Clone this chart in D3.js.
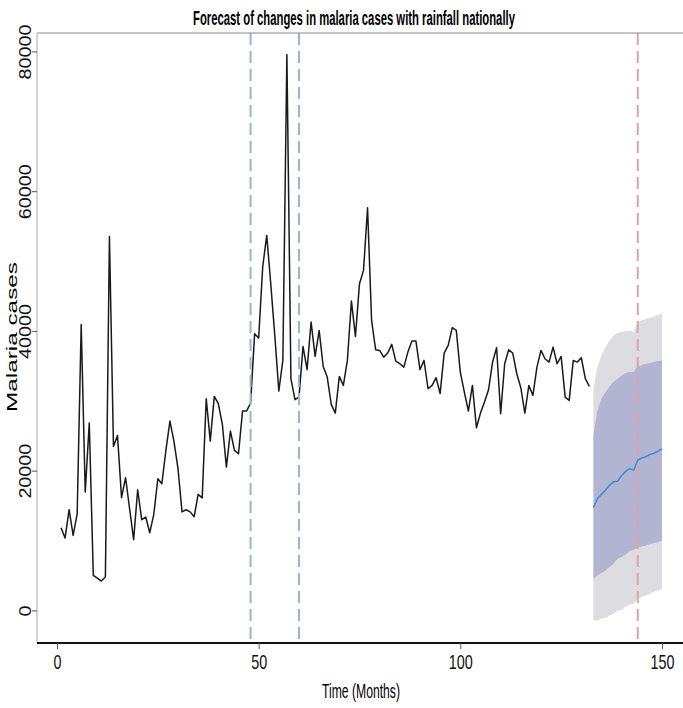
<!DOCTYPE html>
<html>
<head>
<meta charset="utf-8">
<script src="https://cdnjs.cloudflare.com/ajax/libs/d3/7.8.5/d3.min.js"></script>
<style>
  body { margin: 0; background: #fff; }
  svg { display: block; font-family: "Liberation Sans", Arial, sans-serif; }
</style>
</head>
<body>
<div class="svg"></div>
<script>
// observed monthly malaria cases, months 1..132
var cases = [
  11830, 10350, 14410, 10730, 13830, 40930, 16930, 26810, 5010, 4630,
  4200, 4770, 53520, 23470, 25040, 16130, 18990, 14550, 10120, 17270,
  12980, 13360, 11120, 13740, 18840, 18130, 22900, 27090, 24200, 20300,
  14100, 14400, 14100, 13400, 16600, 16100, 30300, 24230, 30630, 29580,
  26620, 20510, 25660, 22900, 22420, 28520, 28520, 29670, 39600, 38970,
  49130, 53670, 46750, 39360, 31390, 35780, 79570, 33160, 30150, 30530,
  37780, 34450, 41260, 36350, 40070, 34920, 33390, 29480, 28240, 33490,
  32200, 35780, 44270, 39210, 46750, 48660, 57630, 41500, 37310, 37210,
  36250, 36830, 38070, 35680, 35300, 34820, 36970, 38540, 38540, 34450,
  35780, 31720, 32200, 33300, 31050, 36830, 37920, 40460, 40070, 34110,
  31240, 28530, 32200, 26150, 28240, 29820, 31580, 35540, 37600, 28150,
  35300, 37310, 36830, 33870, 31870, 28240, 32200, 30770, 34820, 37210,
  36020, 35540, 37680, 35300, 36350, 30530, 30050, 35780, 35540, 36160,
  33160, 32060
];

// forecast, months 133..150
var fcStart = 133;
var fcMean = [14700, 16000, 16600, 17200, 17900, 18400, 18500, 19300, 19900, 20300, 20100, 21500, 21800, 22000, 22300, 22500, 22800, 23100];
var lo80 = [4530, 5010, 5340, 5720, 6200, 6680, 7400, 7630, 8010, 8490, 8690, 8970, 9160, 9300, 9450, 9630, 9770, 10020];
var hi80 = [25040, 28620, 30290, 31250, 32060, 32680, 33160, 33630, 33960, 34110, 34110, 34920, 35110, 35300, 35400, 35540, 35680, 35780];
var lo95 = [-1430, -1430, -1190, -1050, -720, -480, 0, 100, 570, 860, 950, 1670, 1910, 2150, 2390, 2620, 2860, 3100];
var hi95 = [31500, 34820, 36490, 37680, 38640, 39360, 39690, 39830, 39980, 40070, 39830, 41260, 41500, 41740, 41880, 42070, 42260, 42460];

var blueLines = [48, 60];
var redLines = [144];
var xTicks = [0, 50, 100, 150];
var yTicks = [0, 20000, 40000, 60000, 80000];

var width = 683, height = 708;

var svg = d3.select("div.svg").append("svg")
  .attr("width", width)
  .attr("height", height);

var x = d3.scaleLinear().domain([-4.96, 155.96]).range([37, 686]);
var y = d3.scaleLinear().domain([-4666, 82636]).range([643, 33]);

// squeeze/stretch a text along its run so that it spans w pixels
function fit(sel, w, rot){
  sel.each(function(){
    var t = d3.select(this);
    var base = t.attr("data-t") || "";
    var len = this.getComputedTextLength();
    var k = w / len;
    t.attr("transform", base + (rot ? " rotate(-90)" : "") + " scale(" + k + ",1)");
  });
}

var obs = cases.map(function(v, i){ return {m: i + 1, v: v}; });
var fc = fcMean.map(function(v, i){
  return {m: fcStart + i, mean: v, lo80: lo80[i], hi80: hi80[i], lo95: lo95[i], hi95: hi95[i]};
});

// bands
var area95 = d3.area().x(d => x(d.m)).y0(d => y(d.lo95)).y1(d => y(d.hi95));
var area80 = d3.area().x(d => x(d.m)).y0(d => y(d.lo80)).y1(d => y(d.hi80));
svg.append("path").datum(fc).attr("fill", "#dcdce1").attr("d", area95);
svg.append("path").datum(fc).attr("fill", "#b1b5d2").attr("d", area80);

// observed series
var line = d3.line().x(d => x(d.m)).y(d => y(d.v));
svg.append("path")
  .datum(obs)
  .attr("fill", "none")
  .attr("stroke", "#1a1a1a")
  .attr("stroke-width", 1.5)
  .attr("stroke-linejoin", "round")
  .attr("d", line);

// forecast mean
svg.append("path")
  .datum(fc)
  .attr("fill", "none")
  .attr("stroke", "#3b8fdc")
  .attr("stroke-width", 1.6)
  .attr("d", d3.line().x(d => x(d.m)).y(d => y(d.mean)));

// dashed markers
svg.selectAll("line.vb").data(blueLines).enter().append("line")
  .attr("x1", d => x(d)).attr("x2", d => x(d))
  .attr("y1", 33).attr("y2", 643)
  .attr("stroke", "#92b6db").attr("stroke-width", 2)
  .attr("stroke-dasharray", "12,6");
svg.selectAll("line.vr").data(redLines).enter().append("line")
  .attr("x1", d => x(d)).attr("x2", d => x(d))
  .attr("y1", 33).attr("y2", 643)
  .attr("stroke", "#e2a3a5").attr("stroke-width", 2)
  .attr("stroke-dasharray", "12,6");

// frame
svg.append("line").attr("x1", 37).attr("x2", 683).attr("y1", 33).attr("y2", 33)
  .attr("stroke", "#8a8a8a").attr("stroke-width", 1);
svg.append("line").attr("x1", 37).attr("x2", 37).attr("y1", 33).attr("y2", 643)
  .attr("stroke", "#a8a8a8").attr("stroke-width", 1);

// axes
var yAxis = d3.axisLeft(y).tickValues(yTicks).tickSize(5).tickFormat(d3.format("d"));
var gy = svg.append("g").attr("transform", "translate(37,0)").call(yAxis);
gy.select(".domain").remove();
gy.selectAll(".tick line").attr("stroke", "#555");
gy.selectAll(".tick text")
  .attr("x", 0).attr("y", 0).attr("dy", null)
  .attr("text-anchor", "middle")
  .attr("data-t", "translate(-6,0)")
  .attr("font-size", 16)
  .attr("fill", "#111")
  .each(function(d){ fit(d3.select(this), String(d).length * 11, true); });

var xAxis = d3.axisBottom(x).tickValues(xTicks).tickSize(6);
var gx = svg.append("g").attr("transform", "translate(0,643)").call(xAxis);
gx.select(".domain").attr("d", "M37,0H683").attr("stroke", "#111").attr("stroke-width", 2);
gx.selectAll(".tick line").attr("stroke", "#555");
gx.selectAll(".tick text")
  .attr("y", 0).attr("dy", null)
  .attr("data-t", "translate(0,26)")
  .attr("font-size", 20)
  .attr("fill", "#111")
  .each(function(d){ fit(d3.select(this), String(d).length * 8, false); });

// titles
svg.append("text")
  .attr("data-t", "translate(354,25)")
  .attr("text-anchor", "middle")
  .attr("font-size", 20).attr("font-weight", "bold")
  .text("Forecast of changes in malaria cases with rainfall nationally")
  .call(fit, 322, false);

svg.append("text")
  .attr("data-t", "translate(361,698)")
  .attr("text-anchor", "middle")
  .attr("font-size", 20)
  .text("Time (Months)")
  .call(fit, 78, false);

svg.append("text")
  .attr("data-t", "translate(17,337)")
  .attr("text-anchor", "middle")
  .attr("font-size", 15)
  .text("Malaria cases")
  .call(fit, 150, true);
</script>
</body>
</html>
